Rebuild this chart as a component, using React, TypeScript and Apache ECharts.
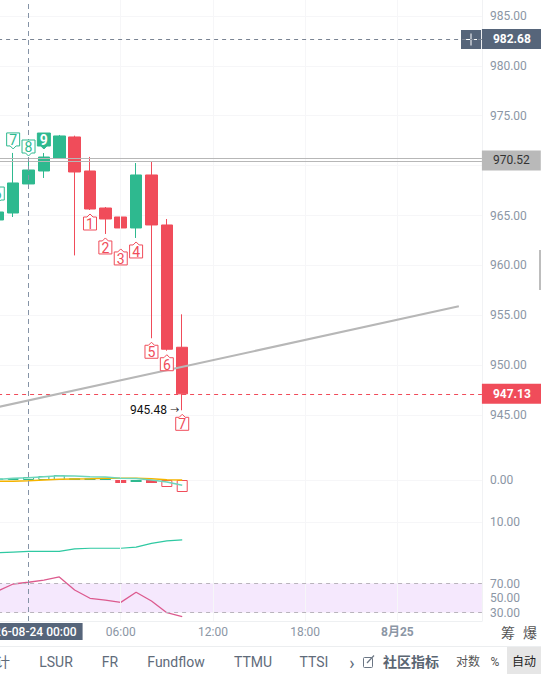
import React, { useEffect, useRef } from "react";
import * as echarts from "echarts";

const hours = ["22:00","23:00","00:00","01:00","02:00","03:00","04:00","05:00","06:00","07:00","08:00","09:00","10:00","11:00","12:00","13:00","14:00","15:00","16:00","17:00","18:00","19:00","20:00","21:00","22:00*","23:00*","8月25","01:00*","02:00*","03:00*","04:00*","05:00*"];
const axisTimes = ["00:00", "06:00", "12:00", "18:00", "8月25"];
const priceTicks = [945, 950, 955, 960, 965, 970, 975, 980, 985];

// open, close, low, high
const candles: number[][] = [
  [964.55, 965.35, 964.4, 965.85],
  [965.25, 968.26, 964.85, 971.27],
  [968.16, 969.56, 968.16, 970.56],
  [969.46, 970.86, 968.76, 971.26],
  [970.76, 972.97, 970.76, 973.07],
  [972.87, 969.36, 961.0, 973.0],
  [969.46, 965.65, 965.55, 970.87],
  [965.75, 964.65, 963.15, 965.85],
  [964.85, 963.75, 962.05, 965.95],
  [963.75, 969.06, 962.75, 970.26],
  [969.06, 964.05, 952.7, 970.36],
  [964.05, 951.6, 951.45, 964.65],
  [951.8, 947.13, 945.48, 955.1],
];
const setupUp = ["6", "7", "8", "9"];
const setupDown = ["", "", "", "", "", "", "1", "2", "3", "4", "5", "6", "7"];
const trendLine = [945.8, ...Array(29).fill(null), 955.9];
const channelLines = [970.71, 970.41];
const lastPrice = 947.13;
const crossPrice = 982.68;
const channelPrice = 970.52;
const lowestPrice = 945.48;

const histHollowUp = [1.5, 2, 3, 4, 5];
const histSolidUp = [null, null, null, null, null, 1.7, 1.7, 1.7, null, -2];
const histSolidDown = [null, null, null, null, null, null, null, null, -3, null, -3];
const histHollowDown = [null, null, null, null, null, null, null, null, null, null, null, -7, -12];
const difLine = [0.7, 1.7, 2.3, 3.3, 4.3, 4, 3.3, 3, 1.7, 1.5, 0, -2, -5.3];
const deaLine = [-1.3, -1.3, -0.7, 0, 0.7, 1, 1.3, 1.7, 1.7, 1.7, 1.3, 0.3, 0];
const midLine = [1.2, 1.4, 1.6, 1.6, 1.6, 2.3, 2.5, 2.5, 2.5, 2.8, 3.9, 4.6, 4.9];
const rsiLine = [59.7, 69.3, 71.7, 74.8, 79, 61, 49.6, 47.2, 44, 57.9, 45.9, 29.7, 24.2];
const toolbarLabels = ["计", "LSUR", "FR", "Fundflow", "TTMU", "TTSI"];

const RED = "#f04c5a";
const GREEN = "#2eb98f";
const GRID = "#f6f6f8";
const AXIS_TEXT = "#8b96a5";
const SLATE = "#56657a";
const FONT = "Roboto, 'Noto Sans CJK SC', sans-serif";

const LEFT = -9.9;
const WIDTH = 491.8;

function pin(params: any, api: any) {
  const [x, y] = api.coord([api.value(0), api.value(1)]);
  const label = String(api.value(2));
  const up = api.value(3) === 1;
  const color = up ? GREEN : RED;
  const solid = label === "9";
  const w = 6.5;
  const h = 13;
  const gap = 4;
  const tip = 3;
  const sign = up ? -1 : 1;
  const tipY = y + sign * gap;
  const shoulder = tipY + sign * tip;
  const far = shoulder + sign * h;
  return {
    type: "group",
    children: [
      {
        type: "polygon",
        shape: {
          points: [
            [x, tipY],
            [x + 3, shoulder],
            [x + w, shoulder],
            [x + w, far],
            [x - w, far],
            [x - w, shoulder],
            [x - 3, shoulder],
          ],
        },
        style: { fill: solid ? color : "#fff", stroke: color, lineWidth: 1 },
      },
      {
        type: "text",
        style: {
          x,
          y: (shoulder + far) / 2 + 0.5,
          text: label,
          fill: solid ? "#fff" : color,
          font: `${solid ? "bold " : ""}14px ${FONT}`,
          textAlign: "center",
          textVerticalAlign: "middle",
        },
      },
    ],
  };
}

function hLine(value: number, color: string, type: any, tag?: { text: string; bg: string; fg: string; bold?: boolean }) {
  return {
    yAxis: value,
    lineStyle: { color, type, width: 1 },
    label: tag
      ? {
          show: true,
          position: "end",
          distance: 0,
          formatter: tag.text,
          backgroundColor: tag.bg,
          color: tag.fg,
          fontFamily: FONT,
          fontSize: 12,
          fontWeight: tag.bold ? "bold" : "normal",
          height: 13,
          lineHeight: 13,
          align: "left",
          padding: [4, 11, 3, 11],
        }
      : { show: false },
  };
}

function tickLabel(allowed: number[]) {
  return {
    color: AXIS_TEXT,
    fontFamily: FONT,
    fontSize: 12,
    margin: 8,
    showMinLabel: true,
    showMaxLabel: true,
    formatter: (v: number) => (allowed.includes(v) ? v.toFixed(2) : ""),
  };
}

function yAxisCommon(gridIndex: number, min: number, max: number, interval: number, allowed: number[]) {
  return {
    type: "value",
    gridIndex,
    position: "right",
    min,
    max,
    interval,
    axisLine: { show: false },
    axisTick: { show: false },
    axisLabel: tickLabel(allowed),
    splitLine: { show: true, lineStyle: { color: GRID, width: 1 }, showMinLine: false, showMaxLine: false },
  };
}

function xAxisCommon(gridIndex: number) {
  return {
    type: "category",
    gridIndex,
    data: hours,
    axisLine: { show: false },
    axisTick: { show: false },
    axisLabel: { show: false },
    splitLine: { show: false },
  };
}

const gridBox = (top: number, height: number) => ({ left: LEFT, width: WIDTH, top, height, outerBoundsMode: "none", containLabel: false });

export default function App() {
  const ref = useRef<HTMLDivElement>(null);
  useEffect(() => {
    document.body.style.margin = "0";
    document.body.style.overflow = "hidden";
    const chart = echarts.init(ref.current!, undefined, { renderer: "svg" });
    const times = hours.slice(0, candles.length);
    chart.setOption({
      animation: false,
      backgroundColor: "#fff",
      grid: [gridBox(-34, 499), gridBox(462, 36), gridBox(487, 70), gridBox(569, 58), gridBox(0, 621)],
      xAxis: [
        xAxisCommon(0),
        xAxisCommon(1),
        xAxisCommon(2),
        xAxisCommon(3),
        {
          ...xAxisCommon(4),
          axisLine: { show: true, lineStyle: { color: "#eef0f2" } },
          axisLabel: {
            show: true,
            interval: 0,
            margin: 2,
            color: AXIS_TEXT,
            fontFamily: FONT,
            fontSize: 12,
            hideOverlap: false,
            formatter: (v: string) => {
              if (!axisTimes.includes(v)) return "";
              if (v === "00:00") return "{tag|2026-08-24 00:00}";
              if (v === "8月25") return "{day|8月25}";
              return `{plain|${v}}`;
            },
            rich: {
              tag: { backgroundColor: SLATE, color: "#fff", padding: [3, 6, 2, 6], fontFamily: FONT, fontSize: 12, fontWeight: 500 },
              plain: { color: AXIS_TEXT, padding: [3, 0, 2, 0], fontFamily: FONT, fontSize: 12 },
              day: { color: AXIS_TEXT, fontWeight: "bold", padding: [3, 0, 2, 0], fontFamily: FONT, fontSize: 12 },
            },
          },
        },
      ],
      yAxis: [
        yAxisCommon(0, 940, 990, 5, priceTicks),
        yAxisCommon(1, -18, 18, 18, [0]),
        yAxisCommon(2, 0, 20, 10, [10]),
        { ...yAxisCommon(3, 10, 90, 20, [30, 50, 70]), splitLine: { show: false } },
        {
          type: "value",
          gridIndex: 4,
          position: "right",
          min: 0,
          max: 1,
          axisLine: { show: true, lineStyle: { color: "#f1f2f4" } },
          axisTick: { show: false },
          axisLabel: { show: false },
          splitLine: { show: false },
        },
      ],
      series: [
        {
          type: "line",
          xAxisIndex: 4,
          yAxisIndex: 4,
          data: [],
          silent: true,
          z: 1,
          markLine: {
            silent: true,
            symbol: "none",
            label: { show: false },
            data: axisTimes.slice(1).map((t) => ({ xAxis: t, lineStyle: { color: GRID, type: "solid", width: 1 } })),
          },
        },
        {
          type: "candlestick",
          xAxisIndex: 0,
          yAxisIndex: 0,
          barWidth: 12,
          z: 3,
          data: candles.map(([o, c, l, h]) => [o, c, l, h]),
          itemStyle: { color: GREEN, color0: RED, borderColor: GREEN, borderColor0: RED, borderWidth: 1 },
          markPoint: {
            silent: true,
            symbolSize: 0,
            data: [
              {
                coord: [times[12], lowestPrice],
                label: {
                  show: true,
                  position: "left",
                  distance: 3,
                  formatter: `{v|${lowestPrice.toFixed(2)}} {a|→}`,
                  rich: {
                    v: { color: "#111", fontFamily: FONT, fontSize: 12 },
                    a: { color: "#111", fontFamily: FONT, fontSize: 9 },
                  },
                },
              },
            ],
          },
        },
        {
          type: "line",
          xAxisIndex: 0,
          yAxisIndex: 0,
          data: trendLine,
          connectNulls: true,
          showSymbol: false,
          symbol: "none",
          clip: false,
          z: 5,
          lineStyle: { color: "#b7b7b7", width: 2 },
        },
        {
          type: "line",
          xAxisIndex: 0,
          yAxisIndex: 0,
          data: [],
          z: 6,
          markLine: {
            silent: true,
            symbol: "none",
            data: [
              ...channelLines.map((v) => hLine(v, "#b7b7b7", "solid")),
              hLine(channelPrice, "transparent", "solid", { text: channelPrice.toFixed(2), bg: "#b9b9b9", fg: "#333" }),
              hLine(crossPrice, "#7a8493", [4, 4], { text: crossPrice.toFixed(2), bg: SLATE, fg: "#fff", bold: true }),
              hLine(lastPrice, RED, [4, 4], { text: lastPrice.toFixed(2), bg: RED, fg: "#fff", bold: true }),
            ],
          },
        },
        {
          type: "custom",
          xAxisIndex: 0,
          yAxisIndex: 0,
          renderItem: pin,
          clip: false,
          z: 7,
          encode: { x: 0, y: 1 },
          data: [
            ...setupUp.map((label, i) => [times[i], candles[i][3], label, 1]),
            ...setupDown.flatMap((label, i) => (label ? [[times[i], candles[i][2], label, 0]] : [])),
          ],
        },
        ...[
          { data: histHollowUp, color: GREEN, hollow: true },
          { data: histSolidUp, color: GREEN, hollow: false },
          { data: histSolidDown, color: RED, hollow: false },
          { data: histHollowDown, color: RED, hollow: true },
        ].map((b) => ({
          type: "bar",
          xAxisIndex: 1,
          yAxisIndex: 1,
          barWidth: 11,
          barGap: "-100%",
          z: 3,
          data: b.data,
          itemStyle: b.hollow
            ? { color: "#fff", borderColor: b.color, borderWidth: 1 }
            : { color: b.color },
        })),
        {
          type: "line",
          xAxisIndex: 1,
          yAxisIndex: 1,
          data: deaLine,
          symbol: "none",
          smooth: false,
          z: 4,
          lineStyle: { color: "#f5b400", width: 1.5 },
        },
        {
          type: "line",
          xAxisIndex: 1,
          yAxisIndex: 1,
          data: difLine,
          symbol: "none",
          z: 5,
          lineStyle: { color: "#6dd5bb", width: 1.5 },
        },
        {
          type: "line",
          xAxisIndex: 2,
          yAxisIndex: 2,
          data: midLine,
          symbol: "none",
          z: 4,
          lineStyle: { color: "#2fc9a2", width: 1.2 },
        },
        {
          type: "line",
          xAxisIndex: 3,
          yAxisIndex: 3,
          data: rsiLine,
          symbol: "none",
          clip: false,
          z: 4,
          lineStyle: { color: "#dc5a8e", width: 1.3 },
          markArea: {
            silent: true,
            itemStyle: { color: "#f5e8fd" },
            data: [[{ yAxis: 70 }, { yAxis: 30 }]],
          },
          markLine: {
            silent: true,
            symbol: "none",
            label: { show: false },
            lineStyle: { color: "#b9b4bc", type: [4, 4], width: 1 },
            data: [{ yAxis: 70 }, { yAxis: 30 }],
          },
        },
        {
          type: "line",
          xAxisIndex: 4,
          yAxisIndex: 4,
          data: [],
          z: 8,
          markLine: {
            silent: true,
            symbol: "none",
            label: { show: false },
            data: [{ xAxis: "00:00", lineStyle: { color: "#8593a6", type: [5, 4], width: 1 } }],
          },
        },
      ],
      graphic: [
        { type: "rect", shape: { x: 461, y: 30, width: 20, height: 19 }, style: { fill: SLATE } },
        { type: "line", shape: { x1: 465, y1: 39.5, x2: 477, y2: 39.5 }, style: { stroke: "#fff", lineWidth: 1 } },
        { type: "line", shape: { x1: 471, y1: 33.5, x2: 471, y2: 45.5 }, style: { stroke: "#fff", lineWidth: 1 } },
        { type: "rect", shape: { x: 539, y: 250, width: 2, height: 40 }, style: { fill: "#bdbdbd" } },
        { type: "line", shape: { x1: 0, y1: 646.5, x2: 541, y2: 646.5 }, style: { stroke: "#eceef0", lineWidth: 1 } },
        { type: "text", style: { x: 508, y: 633, text: "筹", fill: "#555", font: `14px ${FONT}`, align: "center", verticalAlign: "middle" } },
        { type: "text", style: { x: 530, y: 633, text: "爆", fill: "#555", font: `14px ${FONT}`, align: "center", verticalAlign: "middle" } },
        ...toolbarLabels.map((text, i) => ({
          type: "text",
          style: { x: [3, 56, 110, 176, 253, 314][i], y: 662, text, fill: "#5f6b7a", font: `14px ${FONT}`, align: "center", verticalAlign: "middle" },
        })),
        { type: "text", style: { x: 352, y: 662, text: "›", fill: "#5f6b7a", font: `18px ${FONT}`, align: "center", verticalAlign: "middle" } },
        { type: "rect", shape: { x: 363.5, y: 657.5, width: 9, height: 10, r: 1 }, style: { fill: "none", stroke: "#6b7684", lineWidth: 1 } },
        { type: "line", shape: { x1: 367, y1: 663, x2: 374, y2: 655.5 }, style: { stroke: "#6b7684", lineWidth: 1.2 } },
        { type: "text", style: { x: 411, y: 662, text: "社区指标", fill: "#5a6572", font: `bold 14px ${FONT}`, align: "center", verticalAlign: "middle" } },
        { type: "text", style: { x: 468, y: 662, text: "对数", fill: "#555", font: `12px ${FONT}`, align: "center", verticalAlign: "middle" } },
        { type: "text", style: { x: 495, y: 662, text: "%", fill: "#555", font: `12px ${FONT}`, align: "center", verticalAlign: "middle" } },
        { type: "rect", shape: { x: 507, y: 647, width: 34, height: 27 }, style: { fill: "#e6e6e6" } },
        { type: "text", style: { x: 524, y: 662, text: "自动", fill: "#222", font: `12px ${FONT}`, align: "center", verticalAlign: "middle" } },
      ],
    });
    return () => chart.dispose();
  }, []);
  return <div ref={ref} style={{ width: 541, height: 674 }} />;
}
